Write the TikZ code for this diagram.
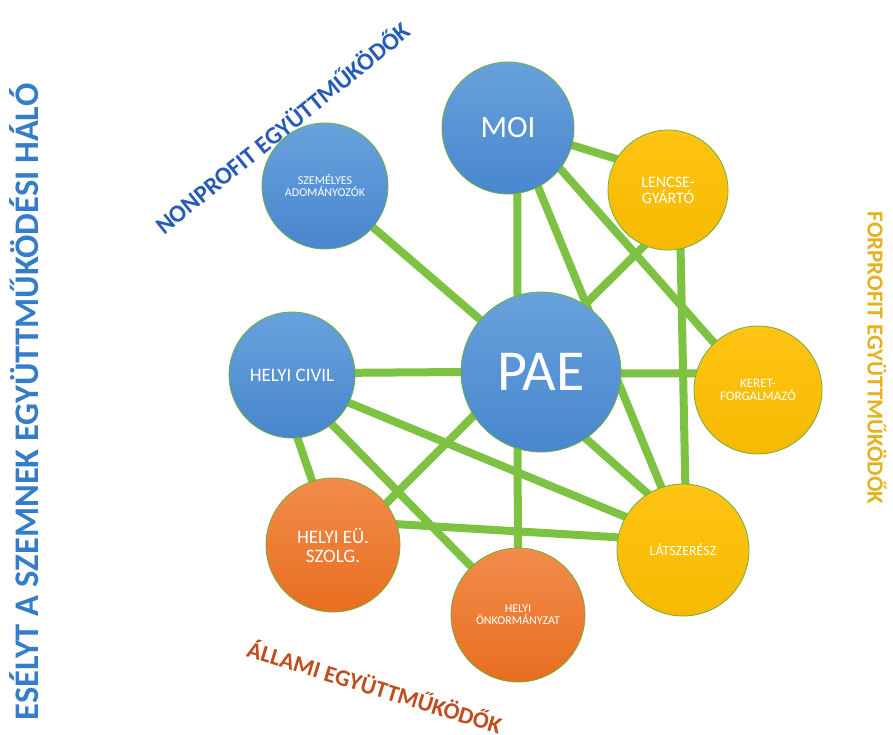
\documentclass[tikz,border=0pt]{standalone}
\usepackage{fontspec}
\setmainfont{Carlito}
\newfontfamily\groupfont{Carlito Bold}
\usetikzlibrary{backgrounds}
\definecolor{netgreen}{RGB}{125,194,66}
\definecolor{bluetop}{RGB}{104,162,220}
\definecolor{bluebot}{RGB}{72,134,206}
\definecolor{orangetop}{RGB}{242,140,75}
\definecolor{orangebot}{RGB}{232,110,32}
\definecolor{yellowtop}{RGB}{255,196,20}
\definecolor{yellowbot}{RGB}{246,186,0}
\definecolor{titleblue}{RGB}{52,125,200}
\definecolor{nonprofitblue}{RGB}{38,92,182}
\definecolor{statered}{RGB}{192,78,30}
\definecolor{forprofitgold}{RGB}{228,178,28}
\newcommand{\sz}[1]{\fontsize{#1}{#1}\selectfont}

\begin{document}
\begin{tikzpicture}[x=1pt,y=-1pt,
  partner/.style={circle,draw=netgreen!90!black,line width=0.8pt,text=white,align=center,inner sep=0pt,minimum size=#1},
  blueone/.style={top color=bluetop,bottom color=bluebot},
  orangeone/.style={top color=orangetop,bottom color=orangebot},
  yellowone/.style={top color=yellowtop,bottom color=yellowbot},
  link/.style={netgreen,line width=8pt,shorten <=-6pt,shorten >=-6pt},
  group/.style={font=\groupfont\sz{#1}}]
  \useasboundingbox (0,0) rectangle (893,734);

  \node[partner=160pt,blueone,font=\sz{58}] (pae) at (541,372) {PAE};
  \node[partner=132pt,blueone,font=\sz{31}] (moi) at (508,128) {MOI};
  \node[partner=126pt,blueone,font=\sz{12}] (adomany) at (325,186) {SZEMÉLYES\\ADOMÁNYOZÓK};
  \node[partner=126pt,blueone,font=\sz{19}] (civil) at (292,375) {HELYI CIVIL};
  \node[partner=120pt,yellowone,font=\sz{16}] (lencse) at (668,190) {LENCSE-\\GYÁRTÓ};
  \node[partner=128pt,yellowone,font=\sz{13}] (keret) at (758,390) {KERET-\\FORGALMAZÓ};
  \node[partner=132pt,yellowone,font=\sz{14}] (latszer) at (683,550) {LÁTSZERÉSZ};
  \node[partner=134pt,orangeone,font=\sz{12}] (onkorm) at (518,615) {HELYI\\ÖNKORMÁNYZAT};
  \node[partner=134pt,orangeone,font=\sz{19}] (eu) at (333,545) {HELYI EÜ.\\SZOLG.};

  \begin{scope}[on background layer]
    \draw[link] (moi.-15) -- (lencse.149);
    \draw[link] (moi.-82) -- (pae.107);
    \draw[link] (moi.-38) -- (keret.133);
    \draw[link] (moi.-63) -- (latszer.109);
    \draw[link] (lencse.-113) -- (pae.57);
    \draw[link] (lencse.-78) -- (latszer.88);
    \draw[link] (pae.-1) -- (keret.165);
    \draw[link] (pae.-56) -- (latszer.122);
    \draw[link] (pae) -- (adomany);
    \draw[link] (pae.180) -- (civil.2);
    \draw[link] (pae.213) -- (eu.38);
    \draw[link] (pae.-107) -- (onkorm.90);
    \draw[link] (civil.-26) -- (latszer.150);
    \draw[link] (civil.-51) -- (onkorm.134);
    \draw[link] (civil.-85) -- (eu.108);
    \draw[link] (eu.18) -- (latszer.169);
  \end{scope}

  \node[group=34.5,text=titleblue,rotate=90] (halo) at (24,402) {ESÉLYT A SZEMNEK EGYÜTTMŰKÖDÉSI HÁLÓ};
  \node[group=24.5,text=nonprofitblue,rotate=39] (nonprofit) at (282,127) {NONPROFIT EGYÜTTMŰKÖDŐK};
  \node[group=23.5,text=statered,rotate=-17] (allami) at (375,686) {ÁLLAMI EGYÜTTMŰKÖDŐK};
  \node[group=23,text=forprofitgold,rotate=-90] (forprofit) at (877,358) {FORPROFIT EGYÜTTMŰKÖDŐK};
\end{tikzpicture}
\end{document}
